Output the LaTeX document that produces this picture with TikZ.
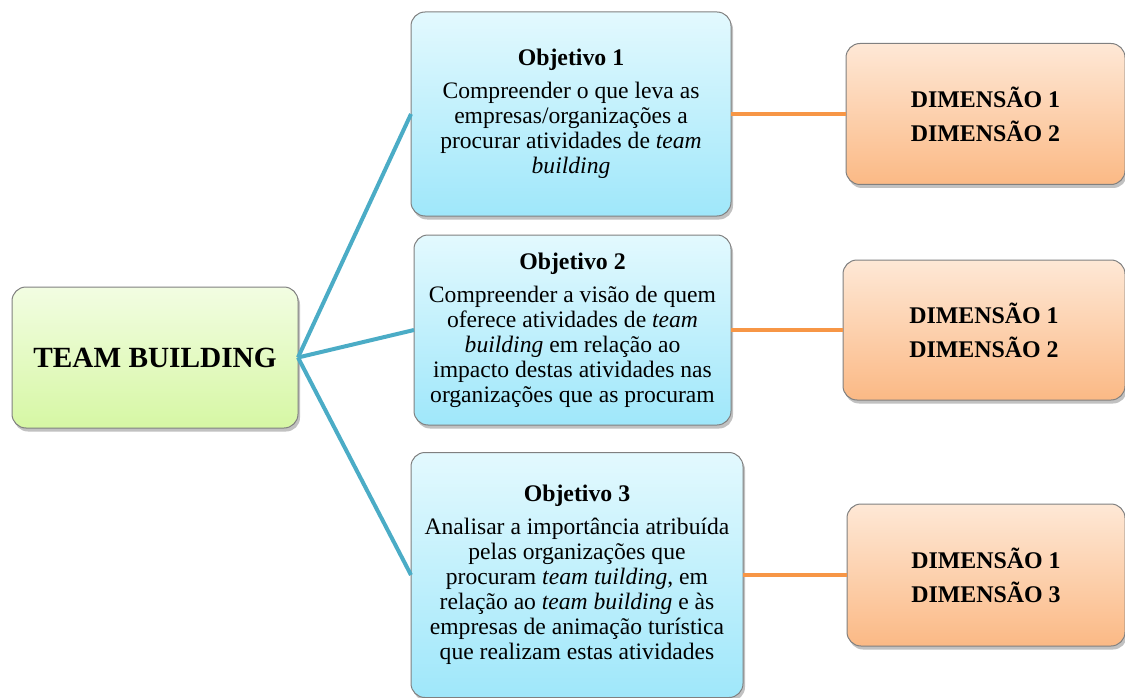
\documentclass[tikz,border=0pt]{standalone}
\usepackage{fontspec}
\setmainfont{Liberation Serif}
\usepackage{xcolor}
\usetikzlibrary{shadows}
\definecolor{verdeTopo}{HTML}{F2FDE2}
\definecolor{verdeBase}{HTML}{D6F7A4}
\definecolor{azulTopo}{HTML}{E3F9FE}
\definecolor{azulBase}{HTML}{9FE7FA}
\definecolor{laranjaTopo}{HTML}{FEE8D6}
\definecolor{laranjaBase}{HTML}{FBB985}
\definecolor{linhaAzul}{HTML}{4BACC6}
\definecolor{linhaLaranja}{HTML}{F79646}
\tikzstyle{caixa}=[rectangle, rounded corners=14pt, draw=black!50, line width=1pt, align=center, inner sep=0pt, outer sep=0pt,
  drop shadow={shadow xshift=2pt, shadow yshift=-3.5pt, opacity=0.35, fill=black!70}]
\tikzstyle{raiz}=[caixa, top color=verdeTopo, bottom color=verdeBase, font=\bfseries\fontsize{29.3}{34}\selectfont]
\tikzstyle{objetivo}=[caixa, top color=azulTopo, bottom color=azulBase, font=\fontsize{23.6}{25}\selectfont]
\tikzstyle{dimensao}=[caixa, top color=laranjaTopo, bottom color=laranjaBase, font=\bfseries\fontsize{23.9}{34}\selectfont]
\tikzstyle{ramo}=[linhaAzul, line width=4pt]
\tikzstyle{liga}=[linhaLaranja, line width=4pt]
\newcommand{\titulo}[1]{{\bfseries\fontsize{23.8}{25}\selectfont #1}\\[8pt]}

\begin{document}
\begin{tikzpicture}[x=1pt, y=-1pt]
        \useasboundingbox (0,0) rectangle (1125,698);
        % caixa central
        \node[raiz, minimum width=286pt, minimum height=141pt] (team) at (155,357.5) {TEAM BUILDING};
        % objetivos
        \node[objetivo, minimum width=320pt, minimum height=204pt] (obj1) at (571,114)
            {\titulo{Objetivo 1}Compreender o que leva as\\ empresas/organizações a\\ procurar atividades de \textit{team}\\ \textit{building}};
        \node[objetivo, minimum width=317pt, minimum height=190pt] (obj2) at (572.5,330)
            {\titulo{Objetivo 2}Compreender a visão de quem\\ oferece atividades de \textit{team}\\ \textit{building} em relação ao\\ impacto destas atividades nas\\ organizações que as procuram};
        \node[objetivo, minimum width=332pt, minimum height=245pt] (obj3) at (577,575)
            {\titulo{Objetivo 3}Analisar a importância atribuída\\ pelas organizações que\\ procuram \textit{team tuilding}, em\\ relação ao \textit{team building} e às\\ empresas de animação turística\\ que realizam estas atividades};
        % dimensoes
        \node[dimensao, minimum width=279pt, minimum height=141pt] (dim1) at (985.5,114) {DIMENSÃO 1\\ DIMENSÃO 2};
        \node[dimensao, minimum width=282pt, minimum height=140pt] (dim2) at (984,330) {DIMENSÃO 1\\ DIMENSÃO 2};
        \node[dimensao, minimum width=278pt, minimum height=142pt] (dim3) at (986,575) {DIMENSÃO 1\\ DIMENSÃO 3};
        % ligacoes
        \draw[ramo] (team.east) -- (obj1.west);
        \draw[ramo] (team.east) -- (obj2.west);
        \draw[ramo] (team.east) -- (obj3.west);
        \draw[liga] (obj1.east) -- (dim1.west);
        \draw[liga] (obj2.east) -- (dim2.west);
        \draw[liga] (obj3.east) -- (dim3.west);
\end{tikzpicture}
\end{document}
